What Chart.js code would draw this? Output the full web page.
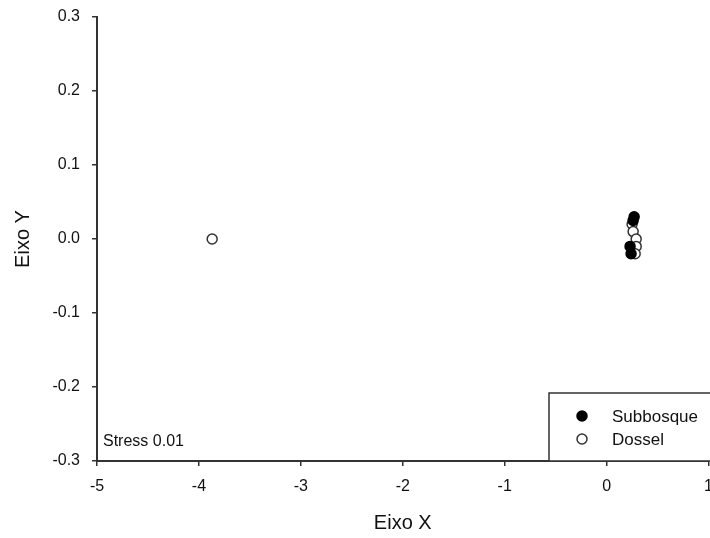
<!DOCTYPE html>
<html>
<head>
<meta charset="utf-8">
<script src="https://cdn.jsdelivr.net/npm/chart.js@4.4.1/dist/chart.umd.min.js"></script>
<style>
    html, body { margin: 0; padding: 0; background: #fff; overflow: hidden; }
    /* canvas slightly oversized: the tick-label padding Chart.js reserves
       falls outside the window, so the axes reach the edges */
    canvas { display: block; margin-top: -5px; }
</style>
</head>
<body>
<canvas id="nmdsChart" width="724" height="543"></canvas>
<script>
// NMDS scores per stratum
const subbosqueX = [0.27, 0.26, 0.23, 0.24];
const subbosqueY = [0.03, 0.025, -0.01, -0.02];
const dosselX = [-3.87, 0.25, 0.26, 0.29, 0.29, 0.28];
const dosselY = [0.0, 0.02, 0.01, 0.0, -0.01, -0.02];

const xTicks = [-5, -4, -3, -2, -1, 0, 1];
const yTicks = [-0.3, -0.2, -0.1, 0.0, 0.1, 0.2, 0.3];
const stressLabel = 'Stress 0.01';

const toPoints = (xs, ys) => xs.map((x, i) => ({ x: x, y: ys[i] }));

const axisColor = '#333';
const family = 'Arial, "Liberation Sans", sans-serif';

// framed legend in the lower right corner + stress note
const boxLegend = {
    id: 'boxLegend',
    afterDraw(chart) {
        const ctx = chart.ctx;
        const area = chart.chartArea;
        const top = area.bottom - 68;
        ctx.save();
        ctx.textBaseline = 'middle';
        ctx.textAlign = 'left';
        ctx.font = '16px ' + family;
        ctx.fillStyle = '#111';
        ctx.fillText(stressLabel, area.left + 6, area.bottom - 19);

        ctx.fillStyle = '#fff';
        ctx.fillRect(549, top, 180, 68);
        ctx.strokeStyle = axisColor;
        ctx.lineWidth = 1.5;
        ctx.strokeRect(549, top, 180, 68);

        ctx.font = '17px ' + family;
        chart.data.datasets.forEach((ds, i) => {
            const y = top + 23 + i * 23;
            ctx.beginPath();
            ctx.arc(582, y, 5, 0, Math.PI * 2);
            ctx.fillStyle = ds.backgroundColor;
            ctx.fill();
            ctx.lineWidth = 1.5;
            ctx.strokeStyle = ds.borderColor;
            ctx.stroke();
            ctx.fillStyle = '#111';
            ctx.fillText(ds.label, 612, y + 1);
        });
        ctx.restore();
    }
};

new Chart(document.getElementById('nmdsChart'), {
    type: 'scatter',
    data: {
        datasets: [
            {
                label: 'Subbosque',
                data: toPoints(subbosqueX, subbosqueY),
                backgroundColor: '#000',
                borderColor: '#000',
                borderWidth: 1.5,
                pointRadius: 5
            },
            {
                label: 'Dossel',
                data: toPoints(dosselX, dosselY),
                backgroundColor: '#fff',
                borderColor: '#333',
                borderWidth: 1.5,
                pointRadius: 5
            }
        ]
    },
    options: {
        responsive: false,
        animation: false,
        layout: { padding: { top: 22, right: 0, bottom: 0, left: 0 } },
        plugins: {
            legend: { display: false },
            tooltip: { enabled: false }
        },
        scales: {
            x: {
                type: 'linear',
                min: xTicks[0],
                max: xTicks[xTicks.length - 1],
                afterBuildTicks: s => { s.ticks = xTicks.map(v => ({ value: v })); },
                afterFit: s => { s.height = 77; },
                grid: { drawOnChartArea: false, drawTicks: true, tickLength: 5, color: axisColor, lineWidth: 1.5 },
                border: { display: true, color: axisColor, width: 2 },
                ticks: { color: '#111', font: { family: family, size: 16 }, padding: 11, maxRotation: 0, callback: v => String(v) },
                title: { display: true, text: 'Eixo X', color: '#111', font: { family: family, size: 20 }, padding: { top: 0, bottom: 3 } }
            },
            y: {
                type: 'linear',
                min: yTicks[0],
                max: yTicks[yTicks.length - 1],
                afterBuildTicks: s => { s.ticks = yTicks.map(v => ({ value: v })); },
                afterFit: s => { s.width = 97; },
                grid: { drawOnChartArea: false, drawTicks: true, tickLength: 5, color: axisColor, lineWidth: 1.5 },
                border: { display: true, color: axisColor, width: 2 },
                ticks: { color: '#111', font: { family: family, size: 16 }, padding: 12, callback: v => Number(v).toFixed(1) },
                title: { display: true, text: 'Eixo Y', color: '#111', font: { family: family, size: 20 }, padding: { top: 11, bottom: 0 } }
            }
        }
    },
    plugins: [boxLegend]
});
</script>
</body>
</html>
